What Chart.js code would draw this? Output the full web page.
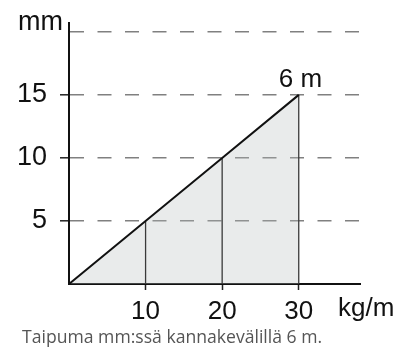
<!DOCTYPE html>
<html>
<head>
<meta charset="utf-8">
<script src="https://cdn.jsdelivr.net/npm/chart.js@4"></script>
<style>
  html, body { margin: 0; padding: 0; background: #fff; }
  #wrap { width: 399px; height: 347px; }
</style>
</head>
<body>
<div id="wrap"><canvas id="beam" width="399" height="347"></canvas></div>
<script>
// load in kg/m and matching deflection in mm, 6 m span
const load = [0, 10, 20, 30];
const deflection = [0, 5, 10, 15];
const xTicks = [10, 20, 30];
const yTicks = [5, 10, 15];
const yUnit = 'mm';
const xUnit = 'kg/m';
const spanLabel = '6 m';
const caption = 'Taipuma mm:ssä kannakevälillä 6 m.';

const points = load.map((x, i) => ({ x, y: deflection[i] }));

// thin drop lines from each marked load down to the axis
const dropLines = load.slice(1).map((x, i) => ({
  data: [{ x, y: 0 }, { x, y: deflection[i + 1] }],
  borderColor: '#3a3a3a',
  borderWidth: 1.3,
  pointRadius: 0,
  fill: false,
}));

const labelsPlugin = {
  id: 'labels',
  afterDraw(chart) {
    const { ctx, scales } = chart;
    const x = scales.x, y = scales.y;
    ctx.save();
    ctx.fillStyle = '#111';
    ctx.font = '27px "Liberation Sans", Arial, sans-serif';
    ctx.textBaseline = 'alphabetic';
    ctx.textAlign = 'right';
    ctx.fillText(yUnit, 63, 30);
    ctx.font = '26px "Liberation Sans", Arial, sans-serif';
    ctx.textAlign = 'left';
    ctx.fillText(xUnit, 338, 316);
    const last = points[points.length - 1];
    ctx.fillText(spanLabel, x.getPixelForValue(last.x) - 20, y.getPixelForValue(last.y) - 8);
    ctx.fillStyle = '#555';
    ctx.font = '17.6px "Open Sans", sans-serif';
    ctx.fillText(caption, 22, 343);
    ctx.restore();
  }
};

new Chart(document.getElementById('beam'), {
  type: 'line',
  data: {
    datasets: [
      {
        data: points,
        borderColor: '#111',
        borderWidth: 2,
        pointRadius: 0,
        fill: 'origin',
        backgroundColor: 'rgba(182, 188, 188, 0.3)',
      },
      ...dropLines,
    ],
  },
  options: {
    responsive: false,
    animation: false,
    devicePixelRatio: 1,
    layout: { padding: { top: 23, right: 39, left: 0, bottom: 0 } },
    plugins: {
      legend: { display: false },
      tooltip: { enabled: false },
      filler: { drawTime: 'beforeDatasetsDraw' },
    },
    scales: {
      x: {
        type: 'linear',
        min: 0,
        max: 38,
        afterFit: (s) => { s.height = 63; s.paddingLeft = 0; s.paddingRight = 0; },
        ticks: {
          stepSize: 10,
          includeBounds: false,
          autoSkip: false,
          maxRotation: 0,
          padding: 6,
          color: '#111',
          font: { family: '"Liberation Sans", Arial, sans-serif', size: 26 },
          callback: (v) => (xTicks.includes(v) ? String(v) : ''),
        },
        grid: {
          drawOnChartArea: false,
          tickLength: 6,
          tickWidth: 1.5,
          tickColor: (c) => (xTicks.includes(c.tick && c.tick.value) ? '#222' : 'transparent'),
        },
        border: { color: '#111', width: 2 },
      },
      y: {
        min: 0,
        max: 20.7,
        afterFit: (s) => { s.width = 69; s.paddingTop = 0; s.paddingBottom = 0; },
        ticks: {
          stepSize: 5,
          includeBounds: false,
          padding: 13,
          color: '#111',
          font: { family: '"Liberation Sans", Arial, sans-serif', size: 27 },
          callback: (v) => (yTicks.includes(v) ? String(v) : ''),
        },
        grid: {
          color: (c) => (c.tick && c.tick.value > 0 ? '#808080' : 'transparent'),
          lineWidth: 1.6,
          tickLength: 9,
          tickWidth: 1.5,
          tickBorderDash: [],
          tickColor: (c) => (yTicks.includes(c.tick && c.tick.value) ? '#222' : 'transparent'),
        },
        border: { color: '#111', width: 2, dash: [14, 13.5] },
      },
    },
  },
  plugins: [labelsPlugin],
});
</script>
</body>
</html>
